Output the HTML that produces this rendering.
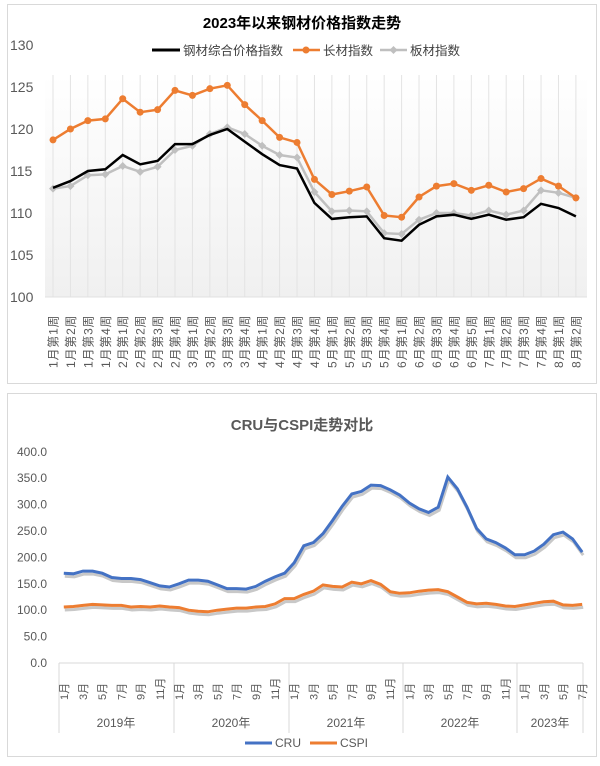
<!DOCTYPE html>
<html><head><meta charset="utf-8"><style>
body{margin:0;background:#fff;width:600px;height:761px;overflow:hidden;font-family:"Liberation Sans","Noto Sans CJK SC",sans-serif}
svg text{font-family:"Liberation Sans","Noto Sans CJK SC",sans-serif}
</style></head><body>
<svg id="s" width="600" height="761" xmlns="http://www.w3.org/2000/svg">
<defs><linearGradient id="g" x1="0" y1="0" x2="0" y2="1"><stop offset="0" stop-color="#fff"/><stop offset="1" stop-color="#f0f0f0"/></linearGradient></defs>
<rect x="7.5" y="4.5" width="589" height="379" fill="#fff" stroke="#d9d9d9"/>
<rect x="7.5" y="393.5" width="589" height="363" fill="#fff" stroke="#d9d9d9"/>
<rect x="45" y="75" width="542" height="222" fill="url(#g)"/>
<text x="302" y="28" font-size="15" font-weight="bold" text-anchor="middle" fill="#000">2023年以来钢材价格指数走势</text>
<line x1="152" y1="50" x2="180" y2="50" stroke="#000" stroke-width="3"/>
<text x="183" y="55" font-size="12.5" fill="#404040">钢材综合价格指数</text>
<line x1="293" y1="50" x2="320" y2="50" stroke="#ed7d31" stroke-width="2.5"/><circle cx="306" cy="50" r="3.5" fill="#ed7d31"/>
<text x="323" y="55" font-size="12.5" fill="#404040">长材指数</text>
<line x1="380" y1="50" x2="407" y2="50" stroke="#bfbfbf" stroke-width="2.5"/><path d="M393.5 46 L397.5 50 L393.5 54 L389.5 50Z" fill="#bfbfbf"/>
<text x="410" y="55" font-size="12.5" fill="#404040">板材指数</text>
<text x="302" y="430" font-size="15" font-weight="bold" text-anchor="middle" fill="#595959">CRU与CSPI走势对比</text>
<line x1="245" y1="743" x2="272" y2="743" stroke="#4472c4" stroke-width="3"/><text x="275" y="747" font-size="12" fill="#595959">CRU</text>
<line x1="310" y1="743" x2="337" y2="743" stroke="#ed7d31" stroke-width="3"/><text x="340" y="747" font-size="12" fill="#595959">CSPI</text>
<g id="dyn"></g>
</svg>
<script>
var ns="http://www.w3.org/2000/svg",G=document.getElementById("dyn"),h="";
function Y1(v){return 297-(v-100)*8.4}
function X1(i){return 53+i*17.43}
for(var v=100;v<=130;v+=5)h+='<text x="10" y="'+(Y1(v)+5)+'" font-size="14" fill="#595959">'+v+'</text>';
for(var i=0;i<31;i++)h+='<line x1="'+X1(i)+'" y1="75" x2="'+X1(i)+'" y2="297" stroke="#e3e3e3"/>';
h+='<line x1="45" y1="297" x2="587" y2="297" stroke="#e0e0e0"/>';
var lab=[];var wk=[[1,4],[2,4],[3,4],[4,4],[5,4],[6,5],[7,4],[8,2]];
wk.forEach(function(m){for(var k=1;k<=m[1];k++)lab.push(m[0]+"月第"+k+"周")});
lab.forEach(function(t,i){h+='<text transform="translate('+(X1(i)+4.5)+',368) rotate(-90)" font-size="12" letter-spacing="0.8" fill="#595959">'+t+'</text>'});
var o=[118.7,120,121,121.2,123.6,122,122.3,124.6,124,124.8,125.2,122.9,121,119,118.4,114,112.2,112.6,113.1,109.7,109.5,111.9,113.2,113.5,112.7,113.3,112.5,112.9,114.1,113.2,111.8];
var b=[113,113.8,115,115.2,116.9,115.8,116.2,118.2,118.2,119.3,120,118.5,117,115.7,115.3,111.2,109.3,109.5,109.6,107,106.7,108.6,109.6,109.8,109.3,109.8,109.2,109.5,111.1,110.6,109.6];
var g=[112.9,113.2,114.5,114.6,115.6,114.9,115.5,117.5,118,119.4,120.2,119.4,118,116.9,116.6,112.5,110.2,110.3,110.2,107.6,107.5,109.2,110,110,109.7,110.3,109.8,110.3,112.7,112.4,111.8];
function pl(a,X,Y){return a.map(function(v,i){return X(i).toFixed(1)+","+Y(v).toFixed(1)}).join(" ")}
h+='<polyline points="'+pl(g,X1,Y1)+'" fill="none" stroke="#c0c0c0" stroke-width="2.5"/>';
g.forEach(function(v,i){var x=X1(i),y=Y1(v);h+='<path d="M'+x+' '+(y-4)+'L'+(x+4)+' '+y+'L'+x+' '+(y+4)+'L'+(x-4)+' '+y+'Z" fill="#c0c0c0"/>'});
h+='<polyline points="'+pl(o,X1,Y1)+'" fill="none" stroke="#ed7d31" stroke-width="2.5"/>';
o.forEach(function(v,i){h+='<circle cx="'+X1(i)+'" cy="'+Y1(v)+'" r="3.5" fill="#ed7d31"/>'});
h+='<polyline points="'+pl(b,X1,Y1)+'" fill="none" stroke="#000" stroke-width="2.5"/>';
function Y2(v){return 663-v*0.528}
function X2(i){return 63.8+i*9.6}
for(var v=0;v<=400;v+=50)h+='<text x="47" y="'+(Y2(v)+4)+'" font-size="12" text-anchor="end" fill="#595959">'+v.toFixed(1)+'</text>';
h+='<line x1="59" y1="663" x2="583" y2="663" stroke="#d9d9d9"/>';
[59,174,289,403,517,583].forEach(function(x){h+='<line x1="'+x+'" y1="663" x2="'+x+'" y2="733" stroke="#d9d9d9"/>'});
var yrs=["2019年","2020年","2021年","2022年","2023年"],yc=[116,231,346,460,550];
yrs.forEach(function(t,i){h+='<text x="'+yc[i]+'" y="727" font-size="12" text-anchor="middle" fill="#595959">'+t+'</text>'});
for(var i=0;i<55;i+=2){var m=(i%12)+1;h+='<text transform="translate('+(X2(i)+4)+',700) rotate(-90)" font-size="11" fill="#595959">'+m+'月</text>'}
var c=[170,169,174,174,170,162,160,160,158,152,146,144,150,157,157,155,148,141,141,140,145,155,163,170,190,222,228,245,270,297,320,325,337,336,328,318,303,292,285,295,352,330,295,255,235,228,218,205,205,212,225,243,248,235,210];
var p=[106,107,109,111,110,109,109,106,107,106,108,106,105,100,98,97,100,102,104,104,106,107,112,122,122,130,136,148,145,144,153,150,156,149,135,132,133,136,138,139,135,125,115,112,113,111,108,107,110,113,116,117,110,109,111];
h+='<polyline points="'+pl(c,function(i){return X2(i)+1},function(v){return Y2(v)+3})+'" fill="none" stroke="#c8c8c8" stroke-width="3"/>';
h+='<polyline points="'+pl(p,function(i){return X2(i)+1},function(v){return Y2(v)+3})+'" fill="none" stroke="#c8c8c8" stroke-width="3"/>';
h+='<polyline points="'+pl(c,X2,Y2)+'" fill="none" stroke="#4472c4" stroke-width="3"/>';
h+='<polyline points="'+pl(p,X2,Y2)+'" fill="none" stroke="#ed7d31" stroke-width="3"/>';
G.innerHTML=h;
</script>
</body></html>
